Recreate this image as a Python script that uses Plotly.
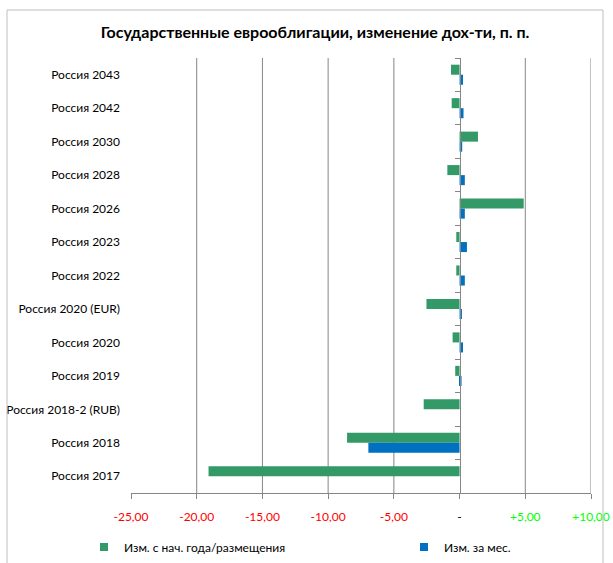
import plotly.graph_objects as go

categories = ["Россия 2043", "Россия 2042", "Россия 2030", "Россия 2028", "Россия 2026",
              "Россия 2023", "Россия 2022", "Россия 2020 (EUR)", "Россия 2020", "Россия 2019",
              "Россия 2018-2 (RUB)", "Россия 2018", "Россия 2017"]
ytd_change = [-0.65, -0.6, 1.4, -0.93, 4.88, -0.25, -0.25, -2.52, -0.53, -0.33, -2.73, -8.56, -19.1]
month_change = [0.26, 0.3, 0.2, 0.4, 0.4, 0.56, 0.4, 0.18, 0.26, 0.15, 0.0, -6.94, 0.0]

series_names = ["Изм. с нач. года/размещения", "Изм. за мес."]
x_tickvals = [-25, -20, -15, -10, -5, 0, 5, 10]
x_ticktext = ["-25,00", "-20,00", "-15,00", "-10,00", "-5,00", "-", "+5,00", "+10,00"]
grid_vals = [-20, -15, -10, -5, 5, 10]

FONT = "Lato, Open Sans, sans-serif"
GREEN = "rgb(51,153,102)"
BLUE = "rgb(0,112,192)"
AXIS = "#868686"


def color_tick(v, t):
    if v < 0:
        return f"<span style='color:#FF0000'>{t}</span>"
    if v > 0:
        return f"<span style='color:#00FF00'>{t}</span>"
    return f"<span style='color:#000000'>{t}</span>"


fig = go.Figure()
fig.add_trace(go.Bar(y=categories, x=ytd_change, orientation="h", name=series_names[0],
                     marker=dict(color=GREEN, line=dict(width=0)), showlegend=False))
fig.add_trace(go.Bar(y=categories, x=month_change, orientation="h", name=series_names[1],
                     marker=dict(color=BLUE, line=dict(width=0)), showlegend=False))
# helper trace carrying the category axis drawn at zero
fig.add_trace(go.Scatter(y=categories, x=[0] * len(categories), yaxis="y2", mode="markers",
                         marker=dict(opacity=0, size=1), showlegend=False, hoverinfo="skip"))
# legend entries (small square keys, as in the original)
fig.add_trace(go.Scatter(x=[None], y=[None], mode="markers", name=series_names[0],
                         marker=dict(symbol="square", size=8, color=GREEN), legend="legend"))
fig.add_trace(go.Scatter(x=[None], y=[None], mode="markers", name=series_names[1],
                         marker=dict(symbol="square", size=8, color=BLUE), legend="legend2"))

W, H = 613, 563
L, R, T, B = 131, 22, 58, 70
pw, ph = W - L - R, H - T - B
n = len(categories)

shapes = []
for g in grid_vals:
    shapes.append(dict(type="line", xref="x", yref="paper", x0=g, x1=g, y0=0, y1=1,
                       line=dict(color=AXIS, width=1), layer="below"))
# chart frame
shapes.append(dict(type="rect", xref="paper", yref="paper",
                   x0=(7 - L) / pw, x1=(603 - L) / pw,
                   y0=(H - B - 575) / ph, y1=(H - B - 10) / ph,
                   line=dict(color="#BFBFBF", width=1)))

leg_y = (H - B - 547) / ph
legend_common = dict(orientation="h", xanchor="left", y=leg_y, yanchor="middle",
                     font=dict(family=FONT, size=12), bgcolor="rgba(0,0,0,0)",
                     itemwidth=30)

fig.update_layout(
    width=W, height=H,
    margin=dict(l=L, r=R, t=T, b=B, autoexpand=False),
    paper_bgcolor="white", plot_bgcolor="white",
    font=dict(family=FONT, size=12, color="black"),
    title=dict(text="<b>Государственные еврооблигации, изменение дох-ти, п. п.</b>",
               x=315 / W, xanchor="center", y=1 - 32 / H, yanchor="middle",
               font=dict(family=FONT, size=16, color="black")),
    barmode="group", bargap=0.4, bargroupgap=0,
    xaxis=dict(range=[-25, 10], tickmode="array", tickvals=x_tickvals,
               ticktext=[color_tick(v, t) for v, t in zip(x_tickvals, x_ticktext)],
               showgrid=False, zeroline=False, showline=True, linecolor=AXIS, linewidth=1,
               ticks="outside", ticklen=5, tickcolor=AXIS, ticklabelstandoff=8,
               tickfont=dict(family=FONT, size=12)),
    yaxis=dict(type="category", categoryorder="array", categoryarray=categories,
               range=[n - 0.5, -0.5], autorange=False, showgrid=False, zeroline=False,
               showline=False, ticks="", ticklabelstandoff=10,
               tickfont=dict(family=FONT, size=12)),
    yaxis2=dict(type="category", overlaying="y", categoryorder="array",
                categoryarray=categories, range=[n - 0.5, -0.5], autorange=False,
                anchor="free", position=25 / 35, showticklabels=False, showgrid=False,
                zeroline=False, showline=True, linecolor=AXIS, linewidth=1, ticks="outside",
                tickson="boundaries", ticklen=5, tickcolor=AXIS),
    legend=dict(x=(84 - L) / pw, **legend_common),
    legend2=dict(x=(404 - L) / pw, **legend_common),
    shapes=shapes,
)

fig.write_html("out.html", post_script="document.body.style.margin='0';",
               config={"displayModeBar": False})
